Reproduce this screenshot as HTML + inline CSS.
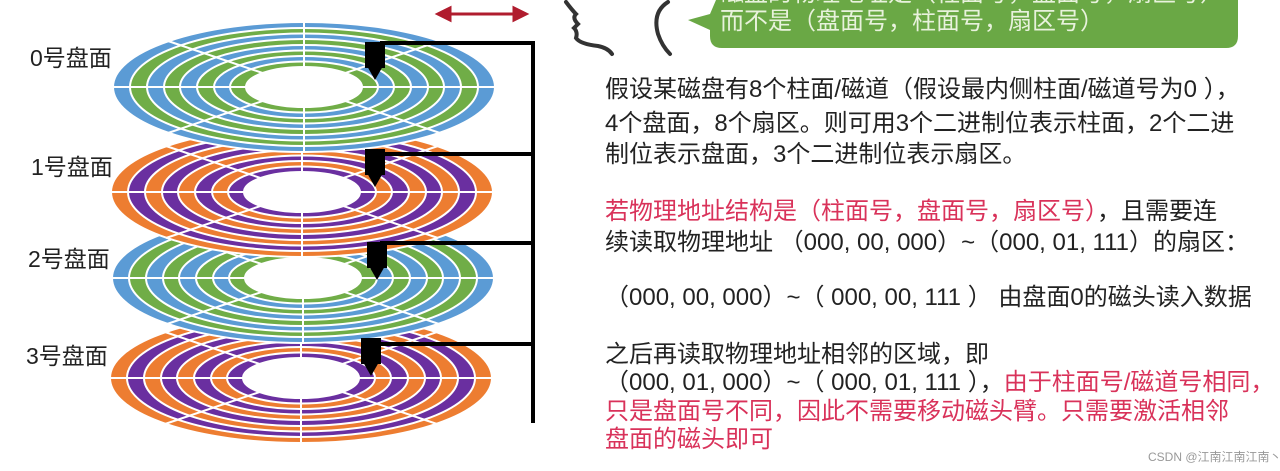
<!DOCTYPE html>
<html><head><meta charset="utf-8"><style>
html,body{margin:0;padding:0;background:#fff;}
body{width:1280px;height:471px;position:relative;overflow:hidden;font-family:"Liberation Sans","Noto Sans CJK SC",sans-serif;}
.t{position:absolute;font-size:24px;line-height:28px;color:#222;white-space:nowrap;}
.r{color:#d9325a;}
.lbl{position:absolute;font-size:23px;color:#222;}
</style></head><body>
<svg width="1280" height="471" style="position:absolute;left:0;top:0">
<defs>
<g id="lines" stroke="#fff" stroke-width="2">
<line x1="-192" y1="0" x2="192" y2="0"/><line x1="0" y1="-66" x2="0" y2="66"/>
<line x1="-136" y1="-46" x2="136" y2="46"/><line x1="-136" y1="46" x2="136" y2="-46"/>
</g>
<g id="dA" stroke="#fff" stroke-width="2">
<ellipse rx="191" ry="65" fill="#5b9bd5"/><ellipse rx="174" ry="59" fill="#70ad47"/>
<ellipse rx="157" ry="53.5" fill="#5b9bd5"/><ellipse rx="140" ry="48" fill="#70ad47"/>
<ellipse rx="124" ry="42" fill="#5b9bd5"/><ellipse rx="107" ry="36.5" fill="#70ad47"/>
<ellipse rx="90" ry="31" fill="#5b9bd5"/><ellipse rx="74" ry="25.5" fill="#70ad47"/>
<use href="#lines"/>
<ellipse rx="58" ry="20" fill="#fff"/>
</g>
<g id="dB" stroke="#fff" stroke-width="2">
<ellipse rx="191" ry="65" fill="#ed7d31"/><ellipse rx="174" ry="59" fill="#6a2fa0"/>
<ellipse rx="157" ry="53.5" fill="#ed7d31"/><ellipse rx="140" ry="48" fill="#6a2fa0"/>
<ellipse rx="124" ry="42" fill="#ed7d31"/><ellipse rx="107" ry="36.5" fill="#6a2fa0"/>
<ellipse rx="90" ry="31" fill="#ed7d31"/><ellipse rx="74" ry="25.5" fill="#6a2fa0"/>
<use href="#lines"/>
<ellipse rx="58" ry="20" fill="#fff"/>
</g>
<g id="head" fill="#000">
<rect x="-10" y="0" width="20" height="26"/>
<polygon points="-8,24 8,24 0,38"/>
</g>
</defs>
<use href="#dB" x="301" y="378"/>
<use href="#dA" x="303" y="278"/>
<use href="#dB" x="302" y="192"/>
<use href="#dA" x="304" y="87"/>
<use href="#head" x="375" y="42"/>
<use href="#head" x="375" y="149"/>
<use href="#head" x="377" y="242"/>
<use href="#head" x="371" y="338"/>
<g stroke="#000" stroke-width="4" fill="none">
<polyline points="380,43 533,43 533,423"/>
<line x1="380" y1="154" x2="533" y2="154"/>
<line x1="380" y1="243" x2="533" y2="243"/>
<line x1="378" y1="344" x2="533" y2="344"/>
</g>
<g stroke="#b01c2e" stroke-width="3" fill="#b01c2e">
<line x1="446" y1="14" x2="517" y2="14"/>
<polygon points="438,14 450,8 450,20"/><polygon points="526,14 514,8 514,20"/>
</g>
<g stroke="#333" stroke-width="4" fill="none" stroke-linecap="round">
<path d="M566,2 Q572,10 576,14 Q572,18 578,24 L574,28 Q578,32 576,38 Q580,44 598,46 Q608,48 612,54"/>
<path d="M668,2 Q652,12 658,34 Q662,46 670,54"/>
</g>
<path d="M716,0 L1238,0 L1238,36 Q1238,48 1226,48 L722,48 Q710,48 710,36 L710,30 L688,20 L710,14 Z" fill="#6aa845"/>
</svg>
<div class="t" style="left:720px;top:-20px;color:#e8f2dc">磁盘的物理地址是（柱面号，盘面号，扇区号）</div>
<div class="t" style="left:720px;top:8px;color:#e8f2dc">而不是（盘面号，柱面号，扇区号）</div>
<div class="lbl" style="left:30px;top:39px">0号盘面</div>
<div class="lbl" style="left:31px;top:148px">1号盘面</div>
<div class="lbl" style="left:28px;top:240px">2号盘面</div>
<div class="lbl" style="left:26px;top:337px">3号盘面</div>
<div class="t" style="left:605px;top:76px">假设某磁盘有8个柱面/磁道（假设最内侧柱面/磁道号为0 ），</div>
<div class="t" style="left:605px;top:110px">4个盘面，8个扇区。则可用3个二进制位表示柱面，2个二进</div>
<div class="t" style="left:605px;top:141px">制位表示盘面，3个二进制位表示扇区。</div>
<div class="t" style="left:605px;top:198px"><span class="r">若物理地址结构是（柱面号，盘面号，扇区号）</span>，且需要连</div>
<div class="t" style="left:605px;top:229px">续读取物理地址 （000, 00, 000）~（000, 01, 111）的扇区：</div>
<div class="t" style="left:605px;top:284px">（000, 00, 000）~（ 000, 00, 111 ） 由盘面0的磁头读入数据</div>
<div class="t" style="left:605px;top:341px">之后再读取物理地址相邻的区域，即</div>
<div class="t" style="left:605px;top:369px">（000, 01, 000）~（ 000, 01, 111 ），<span class="r">由于柱面号/磁道号相同，</span></div>
<div class="t r" style="left:605px;top:398px">只是盘面号不同，因此不需要移动磁头臂。只需要激活相邻</div>
<div class="t r" style="left:605px;top:426px">盘面的磁头即可</div>
<div class="t" style="left:1148px;top:450px;font-size:12px;line-height:14px;color:#999">CSDN @江南江南江南丶</div>
</body></html>
